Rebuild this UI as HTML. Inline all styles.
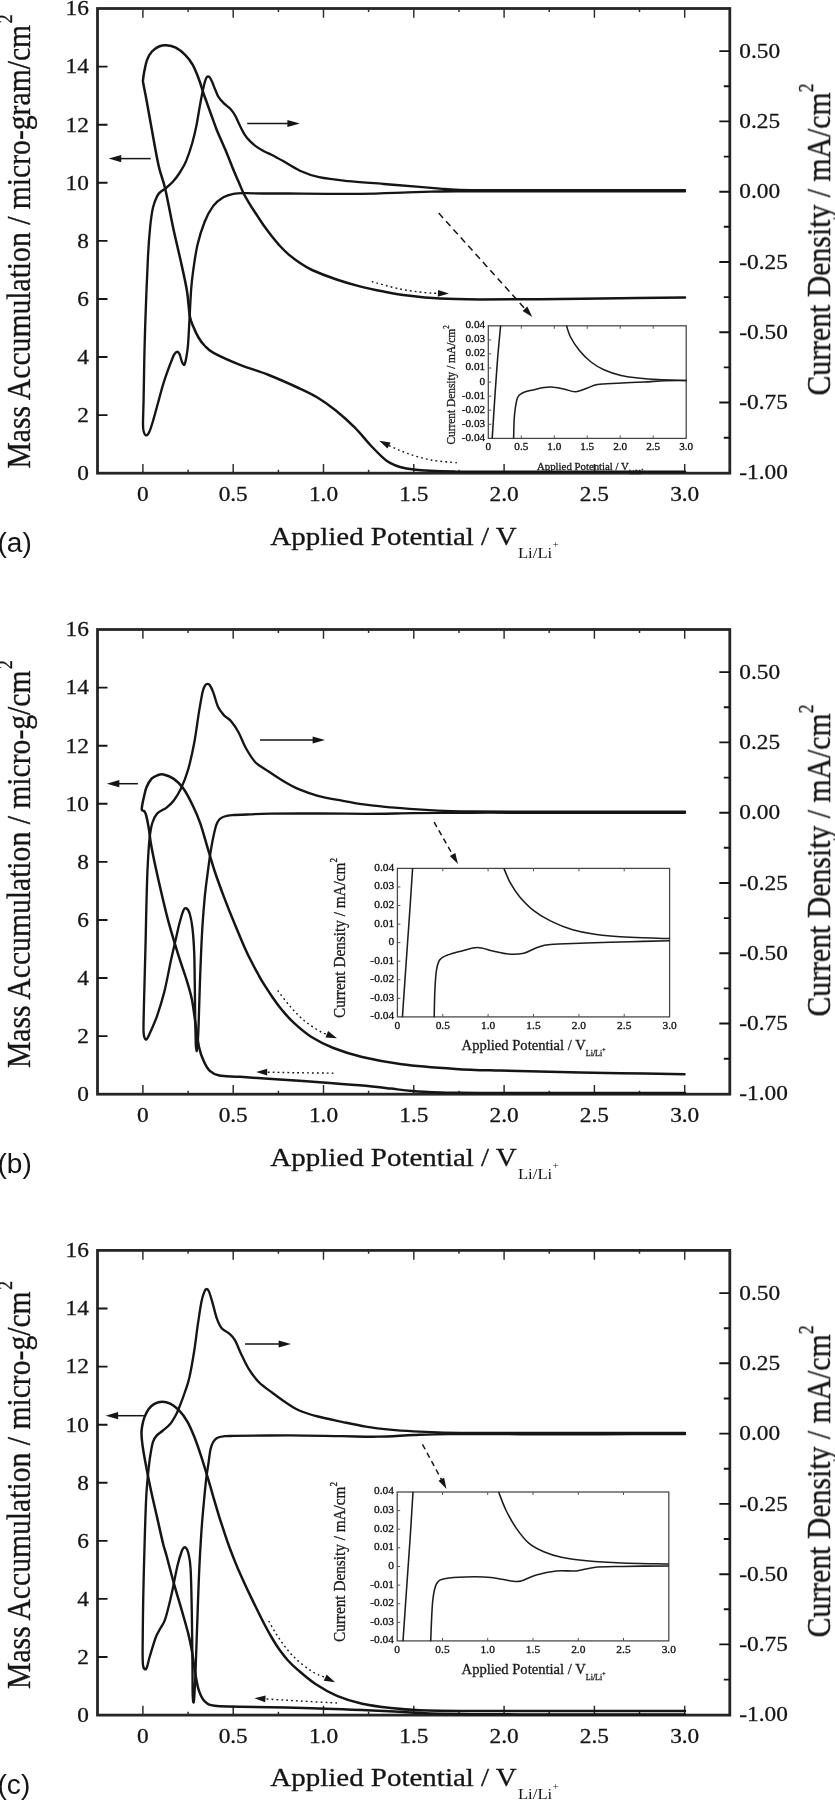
<!DOCTYPE html>
<html lang="en"><head><meta charset="utf-8"><title>Figure</title>
<style>html,body{margin:0;padding:0;background:#fff}svg{display:block}</style>
</head><body>
<svg width="835" height="1800" viewBox="0 0 835 1800">
<defs><filter id="soft" x="0" y="0" width="100%" height="100%" filterUnits="userSpaceOnUse" color-interpolation-filters="sRGB"><feGaussianBlur stdDeviation="0.6"/></filter></defs>
<rect width="835" height="1800" fill="#fff"/>
<g filter="url(#soft)">
<rect width="835" height="1800" fill="#fff"/>
<rect x="97.5" y="8.5" width="632.3" height="464.7" fill="none" stroke="#262626" stroke-width="2.8"/>
<path d="M97.5 415.1h10M97.5 357h10M97.5 299h10M97.5 240.9h10M97.5 182.8h10M97.5 124.7h10M97.5 66.6h10M729.8 437.7h-6M729.8 402.5h-10.5M729.8 367.4h-6M729.8 332.2h-10.5M729.8 297.1h-6M729.8 262h-10.5M729.8 226.8h-6M729.8 191.7h-10.5M729.8 156.6h-6M729.8 121.4h-10.5M729.8 86.3h-6M729.8 51.1h-10.5" stroke="#151515" stroke-width="1.9" fill="none"/>
<path d="M142.9 473.2v-9.3M142.9 8.5v9.3M188.1 473.2v-3.4M188.1 8.5v3.4M233.2 473.2v-9.3M233.2 8.5v9.3M278.4 473.2v-3.4M278.4 8.5v3.4M323.5 473.2v-9.3M323.5 8.5v9.3M368.6 473.2v-3.4M368.6 8.5v3.4M413.8 473.2v-9.3M413.8 8.5v9.3M459 473.2v-3.4M459 8.5v3.4M504.1 473.2v-9.3M504.1 8.5v9.3M549.2 473.2v-3.4M549.2 8.5v3.4M594.4 473.2v-9.3M594.4 8.5v9.3M639.5 473.2v-3.4M639.5 8.5v3.4M684.7 473.2v-9.3M684.7 8.5v9.3" stroke="#2a2a2a" stroke-width="1.45" fill="none"/>
<g font-family="Liberation Serif, Times New Roman, serif" font-size="22.4" stroke="#151515" stroke-width="0.3">
<text transform="translate(88.8 480) scale(1.07 1)" font-size="21.8" text-anchor="end" fill="#151515" >0</text>
<text transform="translate(88.8 421.9) scale(1.07 1)" font-size="21.8" text-anchor="end" fill="#151515" >2</text>
<text transform="translate(88.8 363.8) scale(1.07 1)" font-size="21.8" text-anchor="end" fill="#151515" >4</text>
<text transform="translate(88.8 305.8) scale(1.07 1)" font-size="21.8" text-anchor="end" fill="#151515" >6</text>
<text transform="translate(88.8 247.7) scale(1.07 1)" font-size="21.8" text-anchor="end" fill="#151515" >8</text>
<text transform="translate(88.8 189.6) scale(1.07 1)" font-size="21.8" text-anchor="end" fill="#151515" >10</text>
<text transform="translate(88.8 131.5) scale(1.07 1)" font-size="21.8" text-anchor="end" fill="#151515" >12</text>
<text transform="translate(88.8 73.4) scale(1.07 1)" font-size="21.8" text-anchor="end" fill="#151515" >14</text>
<text transform="translate(88.8 15.4) scale(1.07 1)" font-size="21.8" text-anchor="end" fill="#151515" >16</text>
<text transform="translate(739.3 479.4) scale(1.07 1)" font-size="21.8" text-anchor="start" fill="#151515" >-1.00</text>
<text transform="translate(739.3 409.1) scale(1.07 1)" font-size="21.8" text-anchor="start" fill="#151515" >-0.75</text>
<text transform="translate(739.3 338.9) scale(1.07 1)" font-size="21.8" text-anchor="start" fill="#151515" >-0.50</text>
<text transform="translate(739.3 268.6) scale(1.07 1)" font-size="21.8" text-anchor="start" fill="#151515" >-0.25</text>
<text transform="translate(739.3 198.3) scale(1.07 1)" font-size="21.8" text-anchor="start" fill="#151515" >0.00</text>
<text transform="translate(739.3 128) scale(1.07 1)" font-size="21.8" text-anchor="start" fill="#151515" >0.25</text>
<text transform="translate(739.3 57.7) scale(1.07 1)" font-size="21.8" text-anchor="start" fill="#151515" >0.50</text>
<text transform="translate(142.9 500.8) scale(1.07 1)" font-size="21.8" text-anchor="middle" fill="#151515" >0</text>
<text transform="translate(233.2 500.8) scale(1.07 1)" font-size="21.8" text-anchor="middle" fill="#151515" >0.5</text>
<text transform="translate(323.5 500.8) scale(1.07 1)" font-size="21.8" text-anchor="middle" fill="#151515" >1.0</text>
<text transform="translate(413.8 500.8) scale(1.07 1)" font-size="21.8" text-anchor="middle" fill="#151515" >1.5</text>
<text transform="translate(504.1 500.8) scale(1.07 1)" font-size="21.8" text-anchor="middle" fill="#151515" >2.0</text>
<text transform="translate(594.4 500.8) scale(1.07 1)" font-size="21.8" text-anchor="middle" fill="#151515" >2.5</text>
<text transform="translate(684.7 500.8) scale(1.07 1)" font-size="21.8" text-anchor="middle" fill="#151515" >3.0</text>
</g>
<g font-family="Liberation Serif, Times New Roman, serif" stroke="#151515" stroke-width="0.3">
<text transform="translate(30.3 468.5) scale(1.15 1) rotate(-90)" font-size="29.65" fill="#151515">Mass Accumulation / micro-gram/cm<tspan font-size="17.5" dy="-15.8" dx="1.5">2</tspan></text>
<text transform="translate(830 395.5) scale(1.15 1) rotate(-90)" font-size="29.76" fill="#151515">Current Density / mA/cm<tspan font-size="17.5" dy="-14.8">2</tspan></text>
<text transform="translate(270.3 544.5) scale(1.115 1)" font-size="26" fill="#151515">Applied Potential / V<tspan font-size="15" dy="13" dx="1" stroke="none">Li/Li</tspan><tspan font-size="9.5" dy="-9.5" dx="0.5" stroke="none">+</tspan></text>
</g>
<text transform="translate(-2.5 552.3) scale(1.04 1)" font-family="Liberation Sans, Arial, Helvetica, sans-serif" font-size="27" fill="#151515">(a)</text>
<g font-family="Liberation Serif, Times New Roman, serif">
<rect x="488.3" y="325.8" width="197.9" height="112.6" fill="#fff" fill-opacity="0" stroke="#444" stroke-width="1.25"/>
<text transform="translate(485.1 328.2) scale(1.04 1)" font-size="10.8" text-anchor="end" fill="#111" stroke="#111" stroke-width="0.3">0.04</text>
<text transform="translate(485.1 342.2) scale(1.04 1)" font-size="10.8" text-anchor="end" fill="#111" stroke="#111" stroke-width="0.3">0.03</text>
<text transform="translate(485.1 356.3) scale(1.04 1)" font-size="10.8" text-anchor="end" fill="#111" stroke="#111" stroke-width="0.3">0.02</text>
<text transform="translate(485.1 370.4) scale(1.04 1)" font-size="10.8" text-anchor="end" fill="#111" stroke="#111" stroke-width="0.3">0.01</text>
<text transform="translate(485.1 384.5) scale(1.04 1)" font-size="10.8" text-anchor="end" fill="#111" stroke="#111" stroke-width="0.3">0</text>
<text transform="translate(485.1 398.5) scale(1.04 1)" font-size="10.8" text-anchor="end" fill="#111" stroke="#111" stroke-width="0.3">-0.01</text>
<text transform="translate(485.1 412.6) scale(1.04 1)" font-size="10.8" text-anchor="end" fill="#111" stroke="#111" stroke-width="0.3">-0.02</text>
<text transform="translate(485.1 426.7) scale(1.04 1)" font-size="10.8" text-anchor="end" fill="#111" stroke="#111" stroke-width="0.3">-0.03</text>
<text transform="translate(485.1 440.8) scale(1.04 1)" font-size="10.8" text-anchor="end" fill="#111" stroke="#111" stroke-width="0.3">-0.04</text>
<text transform="translate(488.3 450.1) scale(1.04 1)" font-size="10.8" text-anchor="middle" fill="#111" stroke="#111" stroke-width="0.3">0</text>
<text transform="translate(521.3 450.1) scale(1.04 1)" font-size="10.8" text-anchor="middle" fill="#111" stroke="#111" stroke-width="0.3">0.5</text>
<text transform="translate(554.3 450.1) scale(1.04 1)" font-size="10.8" text-anchor="middle" fill="#111" stroke="#111" stroke-width="0.3">1.0</text>
<text transform="translate(587.2 450.1) scale(1.04 1)" font-size="10.8" text-anchor="middle" fill="#111" stroke="#111" stroke-width="0.3">1.5</text>
<text transform="translate(620.2 450.1) scale(1.04 1)" font-size="10.8" text-anchor="middle" fill="#111" stroke="#111" stroke-width="0.3">2.0</text>
<text transform="translate(653.2 450.1) scale(1.04 1)" font-size="10.8" text-anchor="middle" fill="#111" stroke="#111" stroke-width="0.3">2.5</text>
<text transform="translate(686.2 450.1) scale(1.04 1)" font-size="10.8" text-anchor="middle" fill="#111" stroke="#111" stroke-width="0.3">3.0</text>
<path d="M488.3 339.9h3M488.3 353.9h3M488.3 368h3M488.3 382.1h3M488.3 396.2h3M488.3 410.2h3M488.3 424.3h3M521.3 438.4v-3M521.3 325.8v3M554.3 438.4v-3M554.3 325.8v3M587.2 438.4v-3M587.2 325.8v3M620.2 438.4v-3M620.2 325.8v3M653.2 438.4v-3M653.2 325.8v3" stroke="#555" stroke-width="1" fill="none"/>
<path d="M492.2 438.4C492.7 431.2 494.1 408.1 495 395C495.9 381.9 496.6 371.5 497.5 360C498.4 348.5 500.1 331.5 500.6 325.8" fill="none" stroke="#1c1c1c" stroke-width="1.55"/>
<path d="M566.5 325.8C567.2 327.7 568.4 333 570.5 337C572.6 341 575.6 345.8 579 350C582.4 354.2 586.8 358.7 591 362C595.2 365.3 599.5 367.8 604.5 370C609.5 372.2 615.4 374.2 621 375.5C626.6 376.8 631.8 377.3 638 378C644.2 378.7 649.9 379.2 658 379.6C666.1 380 681.8 380.4 686.5 380.6" fill="none" stroke="#1c1c1c" stroke-width="1.55"/>
<path d="M513.6 438.4C513.8 434.5 513.8 421.8 514.5 415C515.2 408.2 516.1 401.2 517.6 397.5C519.1 393.8 520.9 393.8 523.5 392.5C526.1 391.2 529.6 390.8 533 390C536.4 389.2 540.5 388 544 387.5C547.5 387 550.7 386.9 554 387.2C557.3 387.4 560.4 388.2 564 389C567.6 389.8 571.7 391.9 575.6 391.7C579.5 391.5 583.9 389.2 587.5 388C591.1 386.8 592.5 385.3 597.5 384.5C602.5 383.7 609.8 383.6 617.5 383.2C625.2 382.8 636.1 382.4 644 382C651.9 381.6 657.9 380.9 665 380.7C672.1 380.4 682.9 380.5 686.5 380.5" fill="none" stroke="#1c1c1c" stroke-width="1.55"/>
<text x="537" y="469.5" font-size="10.8" fill="#1a1a1a" stroke="#1a1a1a" stroke-width="0.3">Applied Potential / V<tspan font-size="5.9" dy="4.3">Li/Li</tspan><tspan font-size="4.3" dy="-3.2">+</tspan></text>
<text transform="translate(455 444.5) scale(1.12 1) rotate(-90)" font-size="11.35" fill="#1a1a1a" stroke="#1a1a1a" stroke-width="0.3">Current Density / mA/cm<tspan font-size="6.8" dy="-5.1">2</tspan></text>
</g>
<path d="M685 191.3C670.8 191.3 627.5 191.4 600 191.4C572.5 191.4 541.7 191.4 520 191.4C498.3 191.4 483.3 191.4 470 191.4C456.7 191.4 450.4 191.3 440 191.5C429.6 191.7 421.1 192 407.7 192.4C394.3 192.8 379.8 193.6 359.8 193.8C339.8 194 304.2 193.6 287.9 193.5C271.6 193.4 269.1 193.6 262 193.5C254.8 193.4 249.8 193.1 245 193.2C240.2 193.2 237 193.1 233.4 193.8C229.8 194.5 226.8 195.3 223.4 197.3C220.1 199.3 216.4 201.8 213.3 205.9C210.2 210 207.3 215.2 204.7 221.7C202.1 228.2 199.4 236.5 197.5 244.7C195.6 252.8 194.3 263.1 193.2 270.6C192.1 278.2 191.7 281.6 191.1 290C190.5 298.4 189.9 311.8 189.4 321C188.9 330.2 188.5 338.8 188 345C187.5 351.2 186.8 354.7 186.2 358C185.6 361.3 185.1 364 184.4 364.7C183.7 365.4 182.8 363.8 182 362C181.2 360.2 180.3 355.7 179.5 354C178.7 352.3 178.1 351.7 177.3 351.7C176.5 351.7 175.4 352.7 174.5 354C173.6 355.3 173.8 354.9 172 359.5C170.2 364.1 166.2 374.6 163.9 381.9C161.6 389.1 159.8 396.5 158 403C156.2 409.5 154.5 415.9 153.1 420.7C151.7 425.4 150.6 429.1 149.5 431.5C148.4 433.9 147.3 435.3 146.4 435.4C145.5 435.5 144.4 433.9 143.8 432C143.2 430.1 143 429.3 143 424C143 418.7 143.3 412.3 143.6 400C143.8 387.7 144.1 367.5 144.5 350C144.9 332.5 145.7 310.6 146.3 295C146.9 279.4 147.4 267.4 148 256.2C148.6 244.9 149.3 235.6 150.1 227.5C150.9 219.4 151.8 212.7 153 207.4C154.2 202.1 156 198.5 157.3 195.9C158.6 193.3 159.6 192.8 160.9 191.6C162.2 190.4 163.2 190.4 165.2 188.7C167.2 187 170.5 184.4 173.1 181.5C175.7 178.6 178.3 175 180.5 171.5C182.7 168 184.4 165.3 186.3 160.6C188.2 155.9 190.5 149.3 192.2 143.3C193.9 137.3 195.4 130.7 196.6 124.7C197.8 118.7 198.6 112.7 199.6 107.4C200.6 102.1 201.4 97.2 202.3 93C203.2 88.8 204.1 84.5 204.8 82C205.5 79.5 205.9 78.6 206.4 77.7C206.9 76.8 207.3 76.5 207.9 76.5C208.5 76.5 209.1 76.5 209.8 77.4C210.5 78.3 211.3 79.9 212.2 82C213.1 84.1 214.2 87.3 215.3 89.8C216.4 92.3 217.2 95 218.6 97.2C220 99.4 221.7 101.2 223.7 103.2C225.7 105.2 228.6 106.9 230.5 109C232.4 111.1 233.6 112.8 235.2 115.6C236.8 118.4 238.4 122.6 240 125.8C241.6 129 243.1 132.2 244.8 134.8C246.5 137.4 248.1 139.3 250 141.2C251.9 143.1 253.6 144.7 256 146.4C258.4 148.1 261.7 150.1 264.4 151.5C267.1 152.9 268.9 153.4 272 155C275.1 156.6 278.5 158.5 283.1 161.1C287.8 163.7 293.9 168 299.9 170.7C305.9 173.4 311 175.4 319 177.1C327 178.8 337 179.9 347.8 181.1C358.6 182.2 371.7 183 383.7 184C395.7 185 410.2 186.1 419.6 186.9C429 187.7 433.3 188.1 440 188.6C446.7 189.1 446.7 189.5 460 189.8C473.3 190.1 496.7 190.1 520 190.2C543.3 190.3 572.5 190.2 600 190.2C627.5 190.2 670.8 190.2 685 190.2" fill="none" stroke="#151515" stroke-width="2.35" stroke-linecap="round" stroke-linejoin="round" />
<path d="M685 471.8C664.2 471.8 594.2 471.8 560 471.8C525.8 471.8 497.5 471.8 480 471.8C462.5 471.8 463.3 471.8 455 471.6C446.7 471.4 436.9 471.1 430 470.8C423.1 470.5 418.7 470.2 413.7 469.6C408.7 469 403.9 468.1 400 467C396.1 465.9 392.7 464.2 390 462.8C387.3 461.4 387 461.4 383.7 458.4C380.4 455.4 375.1 450.1 370.3 445C365.5 439.9 360.6 433.4 354.9 427.7C349.1 421.9 342.2 415.6 335.8 410.5C329.4 405.4 323 400.8 316.6 397C310.2 393.2 305.5 391.2 297.5 387.5C289.5 383.8 278.3 378.8 268.7 375C259.1 371.2 249.2 368.5 240 364.8C230.8 361.1 219.4 356 213.5 352.8C207.6 349.6 207 348.1 204.5 345.5C202 342.9 200.3 340.6 198.5 337.5C196.7 334.4 194.9 330.6 193.5 327C192.1 323.4 190.9 322.2 189.8 316C188.7 309.8 188.4 299.5 186.8 290C185.2 280.5 182.6 269.5 180.3 259.1C178 248.7 175.6 239.2 173.1 227.5C170.6 215.8 167.6 198.9 165.2 188.7C162.8 178.4 160.9 175.8 158.7 166C156.5 156.2 153.9 141 151.9 130C149.9 119 147.9 107.8 146.5 100C145.1 92.2 143.8 86.4 143.2 83C142.6 79.6 142.9 81.3 143.1 79.5C143.3 77.7 143.5 75.2 144.2 71.9C144.9 68.6 145.8 63.3 147.1 59.9C148.4 56.5 149.9 53.7 151.9 51.5C153.9 49.3 156.6 47.5 159 46.5C161.4 45.5 163.4 45 166.2 45.2C169 45.4 172.6 46.1 175.8 47.7C179 49.4 182.6 52.3 185.4 55.1C188.2 57.9 190.4 60.7 192.6 64.7C194.8 68.7 197 74.1 198.8 79C200.7 83.9 202.3 90 203.7 94C205.1 98 205.2 98 207 103.1C208.8 108.2 213.1 119.9 214.8 124.7C216.6 129.5 215.6 127.3 217.5 131.8C219.4 136.4 223.6 145.6 226.3 152C229 158.4 231.6 165.5 233.7 170.5C235.8 175.5 236.9 177.9 238.6 181.8C240.3 185.7 241.8 189.9 243.8 193.8C245.8 197.7 248.2 201.6 250.5 205.3C252.8 209 255.2 212.6 257.5 216.1C259.8 219.6 262.1 223.2 264.5 226.5C266.9 229.8 269.2 232.9 271.8 236.2C274.4 239.4 277.1 242.9 280 246C282.9 249.1 285.8 252.1 289.1 254.9C292.4 257.7 296.2 260.5 300 263C303.8 265.5 306 267.3 312 270C318 272.7 327.8 276.5 335.8 279.2C343.8 281.9 351.8 284.3 359.8 286.4C367.8 288.5 375.7 290.1 383.7 291.6C391.7 293.1 398.3 294.4 407.7 295.6C417.1 296.8 427.9 298 440 298.6C452.1 299.2 463.3 299.3 480 299.4C496.7 299.5 516.7 299.4 540 299.2C563.3 299 595.8 298.5 620 298.2C644.2 297.9 674.2 297.7 685 297.6" fill="none" stroke="#151515" stroke-width="2.5" stroke-linecap="round" stroke-linejoin="round" />
<polygon points="108.7,158.6 121.2,155 121.2,162.2" fill="#151515"/>
<line x1="150.7" y1="158.6" x2="120.4" y2="158.6" stroke="#151515" stroke-width="1.5"/>
<polygon points="299.9,123.5 287.4,127.1 287.4,119.9" fill="#151515"/>
<line x1="247.2" y1="123.5" x2="288.5" y2="123.5" stroke="#151515" stroke-width="1.5"/>
<polygon points="532.3,316.9 522.6,310.9 527.3,306.6" fill="#151515"/>
<line x1="438.7" y1="213.1" x2="526.8" y2="310.8" stroke="#151515" stroke-width="1.5" stroke-dasharray="6.5 4.5"/>
<polygon points="448.9,293.6 437.8,296.8 438,290" fill="#151515"/>
<path d="M371.7 281.6C376.4 282.8 391.1 287.2 400 289C408.9 290.8 418.3 291.9 425 292.6C431.7 293.3 437.8 293.3 440 293.4C442.2 293.5 438.3 293.4 437.9 293.4" fill="none" stroke="#151515" stroke-width="1.4" stroke-dasharray="1.8 3.1"/>
<polygon points="379.2,440.7 390.6,442.5 387.5,448.6" fill="#151515"/>
<path d="M456.8 462.8C452.5 462.3 439.1 461.5 431 460C422.9 458.5 414.7 455.9 408 453.6C401.3 451.3 393.9 447.7 390.7 446.4C387.5 445.1 389.3 445.7 389.1 445.6" fill="none" stroke="#151515" stroke-width="1.4" stroke-dasharray="1.8 3.1"/>
<rect x="97.5" y="629.5" width="632.3" height="464.7" fill="none" stroke="#262626" stroke-width="2.8"/>
<path d="M97.5 1036.1h10M97.5 978h10M97.5 920h10M97.5 861.9h10M97.5 803.8h10M97.5 745.7h10M97.5 687.6h10M729.8 1058.7h-6M729.8 1023.5h-10.5M729.8 988.4h-6M729.8 953.2h-10.5M729.8 918.1h-6M729.8 883h-10.5M729.8 847.8h-6M729.8 812.7h-10.5M729.8 777.6h-6M729.8 742.4h-10.5M729.8 707.3h-6M729.8 672.1h-10.5" stroke="#151515" stroke-width="1.9" fill="none"/>
<path d="M142.9 1094.2v-9.3M142.9 629.5v9.3M188.1 1094.2v-3.4M188.1 629.5v3.4M233.2 1094.2v-9.3M233.2 629.5v9.3M278.4 1094.2v-3.4M278.4 629.5v3.4M323.5 1094.2v-9.3M323.5 629.5v9.3M368.6 1094.2v-3.4M368.6 629.5v3.4M413.8 1094.2v-9.3M413.8 629.5v9.3M459 1094.2v-3.4M459 629.5v3.4M504.1 1094.2v-9.3M504.1 629.5v9.3M549.2 1094.2v-3.4M549.2 629.5v3.4M594.4 1094.2v-9.3M594.4 629.5v9.3M639.5 1094.2v-3.4M639.5 629.5v3.4M684.7 1094.2v-9.3M684.7 629.5v9.3" stroke="#2a2a2a" stroke-width="1.45" fill="none"/>
<g font-family="Liberation Serif, Times New Roman, serif" font-size="22.4" stroke="#151515" stroke-width="0.3">
<text transform="translate(88.8 1101) scale(1.07 1)" font-size="21.8" text-anchor="end" fill="#151515" >0</text>
<text transform="translate(88.8 1042.9) scale(1.07 1)" font-size="21.8" text-anchor="end" fill="#151515" >2</text>
<text transform="translate(88.8 984.8) scale(1.07 1)" font-size="21.8" text-anchor="end" fill="#151515" >4</text>
<text transform="translate(88.8 926.8) scale(1.07 1)" font-size="21.8" text-anchor="end" fill="#151515" >6</text>
<text transform="translate(88.8 868.7) scale(1.07 1)" font-size="21.8" text-anchor="end" fill="#151515" >8</text>
<text transform="translate(88.8 810.6) scale(1.07 1)" font-size="21.8" text-anchor="end" fill="#151515" >10</text>
<text transform="translate(88.8 752.5) scale(1.07 1)" font-size="21.8" text-anchor="end" fill="#151515" >12</text>
<text transform="translate(88.8 694.4) scale(1.07 1)" font-size="21.8" text-anchor="end" fill="#151515" >14</text>
<text transform="translate(88.8 636.4) scale(1.07 1)" font-size="21.8" text-anchor="end" fill="#151515" >16</text>
<text transform="translate(739.3 1100.4) scale(1.07 1)" font-size="21.8" text-anchor="start" fill="#151515" >-1.00</text>
<text transform="translate(739.3 1030.1) scale(1.07 1)" font-size="21.8" text-anchor="start" fill="#151515" >-0.75</text>
<text transform="translate(739.3 959.9) scale(1.07 1)" font-size="21.8" text-anchor="start" fill="#151515" >-0.50</text>
<text transform="translate(739.3 889.6) scale(1.07 1)" font-size="21.8" text-anchor="start" fill="#151515" >-0.25</text>
<text transform="translate(739.3 819.3) scale(1.07 1)" font-size="21.8" text-anchor="start" fill="#151515" >0.00</text>
<text transform="translate(739.3 749) scale(1.07 1)" font-size="21.8" text-anchor="start" fill="#151515" >0.25</text>
<text transform="translate(739.3 678.8) scale(1.07 1)" font-size="21.8" text-anchor="start" fill="#151515" >0.50</text>
<text transform="translate(142.9 1121.8) scale(1.07 1)" font-size="21.8" text-anchor="middle" fill="#151515" >0</text>
<text transform="translate(233.2 1121.8) scale(1.07 1)" font-size="21.8" text-anchor="middle" fill="#151515" >0.5</text>
<text transform="translate(323.5 1121.8) scale(1.07 1)" font-size="21.8" text-anchor="middle" fill="#151515" >1.0</text>
<text transform="translate(413.8 1121.8) scale(1.07 1)" font-size="21.8" text-anchor="middle" fill="#151515" >1.5</text>
<text transform="translate(504.1 1121.8) scale(1.07 1)" font-size="21.8" text-anchor="middle" fill="#151515" >2.0</text>
<text transform="translate(594.4 1121.8) scale(1.07 1)" font-size="21.8" text-anchor="middle" fill="#151515" >2.5</text>
<text transform="translate(684.7 1121.8) scale(1.07 1)" font-size="21.8" text-anchor="middle" fill="#151515" >3.0</text>
</g>
<g font-family="Liberation Serif, Times New Roman, serif" stroke="#151515" stroke-width="0.3">
<text transform="translate(30.3 1068) scale(1.15 1) rotate(-90)" font-size="29.65" fill="#151515">Mass Accumulation / micro-g/cm<tspan font-size="17.5" dy="-15.8" dx="1.5">2</tspan></text>
<text transform="translate(830 1016.5) scale(1.15 1) rotate(-90)" font-size="29.76" fill="#151515">Current Density / mA/cm<tspan font-size="17.5" dy="-14.8">2</tspan></text>
<text transform="translate(270.3 1165.5) scale(1.115 1)" font-size="26" fill="#151515">Applied Potential / V<tspan font-size="15" dy="13" dx="1" stroke="none">Li/Li</tspan><tspan font-size="9.5" dy="-9.5" dx="0.5" stroke="none">+</tspan></text>
</g>
<text transform="translate(-2.5 1173.3) scale(1.04 1)" font-family="Liberation Sans, Arial, Helvetica, sans-serif" font-size="27" fill="#151515">(b)</text>
<g font-family="Liberation Serif, Times New Roman, serif">
<rect x="397.4" y="868.4" width="272.2" height="148.5" fill="#fff" fill-opacity="0" stroke="#444" stroke-width="1.25"/>
<text transform="translate(394.2 870.8) scale(1.04 1)" font-size="11" text-anchor="end" fill="#111" stroke="#111" stroke-width="0.3">0.04</text>
<text transform="translate(394.2 889.4) scale(1.04 1)" font-size="11" text-anchor="end" fill="#111" stroke="#111" stroke-width="0.3">0.03</text>
<text transform="translate(394.2 908) scale(1.04 1)" font-size="11" text-anchor="end" fill="#111" stroke="#111" stroke-width="0.3">0.02</text>
<text transform="translate(394.2 926.5) scale(1.04 1)" font-size="11" text-anchor="end" fill="#111" stroke="#111" stroke-width="0.3">0.01</text>
<text transform="translate(394.2 945.1) scale(1.04 1)" font-size="11" text-anchor="end" fill="#111" stroke="#111" stroke-width="0.3">0</text>
<text transform="translate(394.2 963.6) scale(1.04 1)" font-size="11" text-anchor="end" fill="#111" stroke="#111" stroke-width="0.3">-0.01</text>
<text transform="translate(394.2 982.2) scale(1.04 1)" font-size="11" text-anchor="end" fill="#111" stroke="#111" stroke-width="0.3">-0.02</text>
<text transform="translate(394.2 1000.8) scale(1.04 1)" font-size="11" text-anchor="end" fill="#111" stroke="#111" stroke-width="0.3">-0.03</text>
<text transform="translate(394.2 1019.3) scale(1.04 1)" font-size="11" text-anchor="end" fill="#111" stroke="#111" stroke-width="0.3">-0.04</text>
<text transform="translate(397.4 1028.8) scale(1.04 1)" font-size="11" text-anchor="middle" fill="#111" stroke="#111" stroke-width="0.3">0</text>
<text transform="translate(442.8 1028.8) scale(1.04 1)" font-size="11" text-anchor="middle" fill="#111" stroke="#111" stroke-width="0.3">0.5</text>
<text transform="translate(488.1 1028.8) scale(1.04 1)" font-size="11" text-anchor="middle" fill="#111" stroke="#111" stroke-width="0.3">1.0</text>
<text transform="translate(533.5 1028.8) scale(1.04 1)" font-size="11" text-anchor="middle" fill="#111" stroke="#111" stroke-width="0.3">1.5</text>
<text transform="translate(578.9 1028.8) scale(1.04 1)" font-size="11" text-anchor="middle" fill="#111" stroke="#111" stroke-width="0.3">2.0</text>
<text transform="translate(624.2 1028.8) scale(1.04 1)" font-size="11" text-anchor="middle" fill="#111" stroke="#111" stroke-width="0.3">2.5</text>
<text transform="translate(669.6 1028.8) scale(1.04 1)" font-size="11" text-anchor="middle" fill="#111" stroke="#111" stroke-width="0.3">3.0</text>
<path d="M397.4 887h3M397.4 905.5h3M397.4 924.1h3M397.4 942.6h3M397.4 961.2h3M397.4 979.8h3M397.4 998.3h3M442.8 1016.9v-3M442.8 868.4v3M488.1 1016.9v-3M488.1 868.4v3M533.5 1016.9v-3M533.5 868.4v3M578.9 1016.9v-3M578.9 868.4v3M624.2 1016.9v-3M624.2 868.4v3" stroke="#555" stroke-width="1" fill="none"/>
<path d="M402.4 1017.3C403 1008.6 404.8 982 406 965C407.2 948 408.4 931.1 409.5 915C410.6 898.9 412.1 876.2 412.6 868.4" fill="none" stroke="#1c1c1c" stroke-width="1.55"/>
<path d="M503.9 868.4C505 870.9 507.9 878.5 510.5 883.2C513.1 887.9 515.7 892.1 519.4 896.5C523.1 900.9 527.5 905.7 532.7 909.8C537.9 913.9 543.8 917.6 550.4 920.9C557 924.2 565.2 927.6 572.6 929.8C580 932 585.1 933 594.7 934.2C604.3 935.5 617.7 936.6 630.2 937.3C642.7 938 663 938.4 669.6 938.6" fill="none" stroke="#1c1c1c" stroke-width="1.55"/>
<path d="M434.2 1017.3C434.3 1012.8 434.5 997.9 434.9 990.1C435.3 982.3 435.6 975.7 436.4 970.7C437.2 965.7 438 962.5 439.6 960C441.2 957.5 442.6 957 446.3 955.5C450 954 456.6 952.3 461.8 951C467 949.7 472.1 947.5 477.3 947.5C482.5 947.5 487.6 949.9 492.8 951C498 952.1 503.1 953.7 508.3 954.1C513.5 954.5 519 954.3 523.8 953.2C528.6 952.1 532.7 949 537.1 947.5C541.5 946 542.3 945.1 550.4 944.4C558.5 943.6 572.6 943.5 585.9 943C599.2 942.5 616.2 942.1 630.2 941.7C644.2 941.3 663 940.9 669.6 940.8" fill="none" stroke="#1c1c1c" stroke-width="1.55"/>
<text x="461.6" y="1050.3" font-size="14.6" fill="#1a1a1a" stroke="#1a1a1a" stroke-width="0.3">Applied Potential / V<tspan font-size="8" dy="5.8">Li/Li</tspan><tspan font-size="5.8" dy="-4.4">+</tspan></text>
<text transform="translate(345.2 1018) scale(1.12 1) rotate(-90)" font-size="15.25" fill="#1a1a1a" stroke="#1a1a1a" stroke-width="0.3">Current Density / mA/cm<tspan font-size="9.2" dy="-6.9">2</tspan></text>
</g>
<path d="M685 812.7C670.8 812.7 627.5 812.8 600 812.8C572.5 812.8 541.7 812.8 520 812.8C498.3 812.8 487.7 812.6 470 812.7C452.3 812.8 431.1 813 413.7 813.2C396.3 813.4 381.4 813.8 365.8 813.8C350.2 813.8 336 813.5 320 813.5C304 813.5 281.7 813.5 270 813.6C258.3 813.8 256.3 814.1 250 814.4C243.7 814.6 236.2 814.8 232 815.1C227.8 815.5 226.4 815.9 224.5 816.5C222.6 817.1 221.5 817.7 220.3 818.6C219.2 819.5 218.4 820.5 217.6 822C216.8 823.5 216.3 824.4 215.5 827.5C214.7 830.6 213.6 835.5 212.6 840.5C211.6 845.5 210.6 851.5 209.7 857.7C208.8 864 207.9 871 207 878C206.1 885 205.3 890.8 204.5 899.8C203.7 908.8 202.8 919.5 202.1 932C201.4 944.5 200.8 959.5 200.2 975C199.6 990.5 199 1013.3 198.6 1025C198.2 1036.7 197.9 1040.6 197.6 1045C197.3 1049.4 197 1051.3 196.7 1051.3C196.4 1051.3 196.1 1050.2 195.8 1045C195.6 1039.8 195.4 1030 195.2 1020C195 1010 195 996.2 194.8 985C194.6 973.8 194.6 961.9 194.2 952.5C193.8 943.1 193.2 934.9 192.5 928.5C191.8 922.1 190.8 917.4 189.8 914C188.8 910.6 187.6 909 186.5 908.4C185.4 907.8 184.5 908.2 183.4 910.5C182.3 912.8 180.8 918.4 179.8 922C178.8 925.6 178.8 926 177.4 932C176 938 173.6 948.3 171.4 958.3C169.2 968.3 166.7 982.3 164.3 991.9C161.9 1001.5 159.5 1008.9 157.1 1015.8C154.7 1022.6 151.7 1029.1 149.9 1033C148.2 1036.9 147.5 1038.6 146.6 1039.3C145.7 1040 144.8 1038.9 144.3 1037C143.8 1035.1 143.5 1035 143.5 1028C143.5 1021 143.9 1008 144.2 995C144.5 982 145 965 145.4 950C145.8 935 146.1 918.3 146.4 905C146.8 891.7 147 880.8 147.5 870C148 859.2 148.6 847.8 149.4 840C150.2 832.2 151 827.4 152.3 823C153.6 818.6 154.7 816.2 157.1 813.6C159.5 811 163.8 809.8 166.6 807.6C169.4 805.4 171.4 803.7 173.8 800.5C176.2 797.3 178.6 793.7 181 788.5C183.4 783.3 186 776.9 188.2 769.3C190.4 761.7 192.4 752.6 194.2 743C196 733.4 197.6 720.4 199 711.9C200.4 703.4 201.6 696.4 202.6 692C203.6 687.6 204.4 686.6 205.2 685.3C206 683.9 206.8 683.9 207.6 683.9C208.4 683.9 209 684 210 685.5C211 687 212.1 689.1 213.4 692.7C214.8 696.3 216.3 703.3 218.1 707.1C219.9 710.9 221.9 713 224.1 715.4C226.3 717.8 228.9 718.6 231.3 721.4C233.7 724.2 236.1 727.8 238.5 732.2C240.9 736.6 242.9 742.8 245.7 747.8C248.5 752.8 251.7 758.4 255.3 762.2C258.9 766 262.8 767.6 267.2 770.6C271.6 773.6 276.4 776.9 281.6 780C286.9 783.1 292.6 786.6 298.7 789.2C304.8 791.8 310.7 793.9 317.9 795.8C325.1 797.7 333.9 799.1 341.9 800.6C349.9 802.1 357.8 803.6 365.8 804.7C373.8 805.8 381.8 806.5 389.8 807.3C397.8 808 405.7 808.7 413.7 809.2C421.7 809.8 428.3 810.2 437.7 810.6C447.1 811 456.3 811.2 470 811.4C483.7 811.6 498.3 811.6 520 811.6C541.7 811.6 572.5 811.6 600 811.6C627.5 811.6 670.8 811.6 685 811.6" fill="none" stroke="#151515" stroke-width="2.35" stroke-linecap="round" stroke-linejoin="round" />
<path d="M685 1092.9C664.2 1092.9 594.2 1092.9 560 1092.9C525.8 1092.9 497.5 1092.9 480 1092.9C462.5 1092.9 461.5 1092.8 455 1092.8C448.5 1092.8 448.3 1092.9 441.2 1092.6C434.1 1092.3 420.9 1091.7 412.5 1091C404.1 1090.3 398.7 1089.5 390.9 1088.6C383.1 1087.7 376 1086.8 365.8 1085.8C355.6 1084.8 344.8 1084 329.8 1082.9C314.8 1081.8 290.9 1080.3 275.9 1079.3C260.9 1078.3 249.4 1077.4 240 1076.8C230.6 1076.2 224.3 1076.5 219.3 1075.5C214.3 1074.5 212.4 1073.3 209.8 1070.9C207.2 1068.5 205.6 1065.3 203.8 1061.3C202 1057.3 200.4 1053.3 199 1046.9C197.6 1040.5 196.6 1031 195.4 1023C194.2 1015 193.4 1006.6 191.8 999C190.2 991.4 188 984.7 185.8 977.5C183.6 970.3 181.4 964.9 178.6 955.9C175.8 946.9 171.8 933.9 169 923.7C166.2 913.6 164.1 904.2 161.9 895C159.7 885.8 157.7 877 155.9 868.6C154.1 860.2 152.3 851.5 151.1 844.7C149.9 837.9 149.5 832.7 148.7 827.9C147.9 823.1 147 818.6 146.3 815.9C145.6 813.2 145.3 812.5 144.6 811.5C143.8 810.5 142.1 811.1 141.8 809.7C141.5 808.3 142.3 805 142.6 803C142.9 801 143.2 800.1 143.8 797.5C144.5 794.9 145.2 790.4 146.5 787.3C147.8 784.2 149.8 780.7 151.6 778.7C153.4 776.7 155.5 776 157.5 775.3C159.5 774.6 160.8 773.9 163.5 774.5C166.2 775.1 170.5 776.6 173.8 778.9C177.1 781.2 180.2 784 183.4 788.5C186.6 793 190.2 800.2 193 806C195.8 811.8 197.8 816.2 200.2 823.1C202.6 830 205 839.1 207.4 847.1C209.8 855.1 211.8 862.6 214.6 871C217.4 879.4 220.8 888.6 224.1 897.4C227.4 906.1 230.9 914.8 234.5 923.5C238.1 932.2 242.6 943 245.5 949.5C248.4 956 249.8 958.4 252 962.8C254.2 967.2 256.8 971.8 259 975.8C261.2 979.8 263.2 983.1 265.5 986.7C267.8 990.3 269.8 993.3 272.5 997.2C275.2 1001.1 278.4 1005.7 282 1010C285.6 1014.3 288.9 1018.4 293.9 1022.9C298.9 1027.5 305.3 1033.1 311.9 1037.3C318.5 1041.5 325 1044.7 333.4 1048C341.8 1051.3 350.8 1054.3 362.2 1057C373.6 1059.7 386.1 1062.2 401.7 1064.2C417.3 1066.2 439.2 1067.8 455.6 1068.9C472 1070 482.6 1070.1 500 1070.6C517.4 1071.1 540 1071.6 560 1072C580 1072.4 599.2 1072.8 620 1073.2C640.8 1073.6 673.8 1074 684.5 1074.2" fill="none" stroke="#151515" stroke-width="2.5" stroke-linecap="round" stroke-linejoin="round" />
<polygon points="106.8,783.7 119.3,780.1 119.3,787.3" fill="#151515"/>
<line x1="137.9" y1="783.7" x2="118.7" y2="783.7" stroke="#151515" stroke-width="1.5"/>
<polygon points="325.1,740 312.6,743.6 312.6,736.4" fill="#151515"/>
<line x1="260" y1="740" x2="313.9" y2="740" stroke="#151515" stroke-width="1.5"/>
<polygon points="458,864.1 449.8,856.1 455.3,853" fill="#151515"/>
<line x1="434.1" y1="822.2" x2="453" y2="855.4" stroke="#151515" stroke-width="1.5" stroke-dasharray="5.5 4"/>
<polygon points="337,1038.3 325.5,1037.4 328.1,1031" fill="#151515"/>
<path d="M277.7 990.5C279.8 993.2 285.8 1001.5 290.3 1006.6C294.8 1011.7 299.6 1016.8 304.7 1021C309.8 1025.2 317.1 1029.6 320.8 1031.8C324.5 1034 325.8 1033.8 326.8 1034.2" fill="none" stroke="#151515" stroke-width="1.4" stroke-dasharray="1.8 3.1"/>
<polygon points="256.2,1072.1 267.2,1068.8 267.2,1075.6" fill="#151515"/>
<path d="M333.4 1073.2C327.8 1073.1 308.9 1072.9 300 1072.8C291.1 1072.7 285.5 1072.5 280 1072.4C274.5 1072.3 269.3 1072.3 267.2 1072.2" fill="none" stroke="#151515" stroke-width="1.4" stroke-dasharray="1.8 3.1"/>
<rect x="97.5" y="1250.4" width="632.3" height="464.7" fill="none" stroke="#262626" stroke-width="2.8"/>
<path d="M97.5 1657h10M97.5 1598.9h10M97.5 1540.9h10M97.5 1482.8h10M97.5 1424.7h10M97.5 1366.6h10M97.5 1308.5h10M729.8 1679.6h-6M729.8 1644.4h-10.5M729.8 1609.3h-6M729.8 1574.2h-10.5M729.8 1539h-6M729.8 1503.9h-10.5M729.8 1468.7h-6M729.8 1433.6h-10.5M729.8 1398.5h-6M729.8 1363.3h-10.5M729.8 1328.2h-6M729.8 1293.1h-10.5" stroke="#151515" stroke-width="1.9" fill="none"/>
<path d="M142.9 1715.1v-9.3M142.9 1250.4v9.3M188.1 1715.1v-3.4M188.1 1250.4v3.4M233.2 1715.1v-9.3M233.2 1250.4v9.3M278.4 1715.1v-3.4M278.4 1250.4v3.4M323.5 1715.1v-9.3M323.5 1250.4v9.3M368.6 1715.1v-3.4M368.6 1250.4v3.4M413.8 1715.1v-9.3M413.8 1250.4v9.3M459 1715.1v-3.4M459 1250.4v3.4M504.1 1715.1v-9.3M504.1 1250.4v9.3M549.2 1715.1v-3.4M549.2 1250.4v3.4M594.4 1715.1v-9.3M594.4 1250.4v9.3M639.5 1715.1v-3.4M639.5 1250.4v3.4M684.7 1715.1v-9.3M684.7 1250.4v9.3" stroke="#2a2a2a" stroke-width="1.45" fill="none"/>
<g font-family="Liberation Serif, Times New Roman, serif" font-size="22.4" stroke="#151515" stroke-width="0.3">
<text transform="translate(88.8 1721.9) scale(1.07 1)" font-size="21.8" text-anchor="end" fill="#151515" >0</text>
<text transform="translate(88.8 1663.8) scale(1.07 1)" font-size="21.8" text-anchor="end" fill="#151515" >2</text>
<text transform="translate(88.8 1605.7) scale(1.07 1)" font-size="21.8" text-anchor="end" fill="#151515" >4</text>
<text transform="translate(88.8 1547.7) scale(1.07 1)" font-size="21.8" text-anchor="end" fill="#151515" >6</text>
<text transform="translate(88.8 1489.6) scale(1.07 1)" font-size="21.8" text-anchor="end" fill="#151515" >8</text>
<text transform="translate(88.8 1431.5) scale(1.07 1)" font-size="21.8" text-anchor="end" fill="#151515" >10</text>
<text transform="translate(88.8 1373.4) scale(1.07 1)" font-size="21.8" text-anchor="end" fill="#151515" >12</text>
<text transform="translate(88.8 1315.3) scale(1.07 1)" font-size="21.8" text-anchor="end" fill="#151515" >14</text>
<text transform="translate(88.8 1257.3) scale(1.07 1)" font-size="21.8" text-anchor="end" fill="#151515" >16</text>
<text transform="translate(739.3 1721.3) scale(1.07 1)" font-size="21.8" text-anchor="start" fill="#151515" >-1.00</text>
<text transform="translate(739.3 1651) scale(1.07 1)" font-size="21.8" text-anchor="start" fill="#151515" >-0.75</text>
<text transform="translate(739.3 1580.8) scale(1.07 1)" font-size="21.8" text-anchor="start" fill="#151515" >-0.50</text>
<text transform="translate(739.3 1510.5) scale(1.07 1)" font-size="21.8" text-anchor="start" fill="#151515" >-0.25</text>
<text transform="translate(739.3 1440.2) scale(1.07 1)" font-size="21.8" text-anchor="start" fill="#151515" >0.00</text>
<text transform="translate(739.3 1369.9) scale(1.07 1)" font-size="21.8" text-anchor="start" fill="#151515" >0.25</text>
<text transform="translate(739.3 1299.7) scale(1.07 1)" font-size="21.8" text-anchor="start" fill="#151515" >0.50</text>
<text transform="translate(142.9 1742.7) scale(1.07 1)" font-size="21.8" text-anchor="middle" fill="#151515" >0</text>
<text transform="translate(233.2 1742.7) scale(1.07 1)" font-size="21.8" text-anchor="middle" fill="#151515" >0.5</text>
<text transform="translate(323.5 1742.7) scale(1.07 1)" font-size="21.8" text-anchor="middle" fill="#151515" >1.0</text>
<text transform="translate(413.8 1742.7) scale(1.07 1)" font-size="21.8" text-anchor="middle" fill="#151515" >1.5</text>
<text transform="translate(504.1 1742.7) scale(1.07 1)" font-size="21.8" text-anchor="middle" fill="#151515" >2.0</text>
<text transform="translate(594.4 1742.7) scale(1.07 1)" font-size="21.8" text-anchor="middle" fill="#151515" >2.5</text>
<text transform="translate(684.7 1742.7) scale(1.07 1)" font-size="21.8" text-anchor="middle" fill="#151515" >3.0</text>
</g>
<g font-family="Liberation Serif, Times New Roman, serif" stroke="#151515" stroke-width="0.3">
<text transform="translate(30.3 1688.9) scale(1.15 1) rotate(-90)" font-size="29.65" fill="#151515">Mass Accumulation / micro-g/cm<tspan font-size="17.5" dy="-15.8" dx="1.5">2</tspan></text>
<text transform="translate(830 1637.4) scale(1.15 1) rotate(-90)" font-size="29.76" fill="#151515">Current Density / mA/cm<tspan font-size="17.5" dy="-14.8">2</tspan></text>
<text transform="translate(270.3 1786.4) scale(1.115 1)" font-size="26" fill="#151515">Applied Potential / V<tspan font-size="15" dy="13" dx="1" stroke="none">Li/Li</tspan><tspan font-size="9.5" dy="-9.5" dx="0.5" stroke="none">+</tspan></text>
</g>
<text transform="translate(-2.5 1794.2) scale(1.04 1)" font-family="Liberation Sans, Arial, Helvetica, sans-serif" font-size="27" fill="#151515">(c)</text>
<g font-family="Liberation Serif, Times New Roman, serif">
<rect x="397.2" y="1492" width="271.6" height="148.9" fill="#fff" fill-opacity="0" stroke="#444" stroke-width="1.25"/>
<text transform="translate(394 1494.4) scale(1.04 1)" font-size="11" text-anchor="end" fill="#111" stroke="#111" stroke-width="0.3">0.04</text>
<text transform="translate(394 1513) scale(1.04 1)" font-size="11" text-anchor="end" fill="#111" stroke="#111" stroke-width="0.3">0.03</text>
<text transform="translate(394 1531.7) scale(1.04 1)" font-size="11" text-anchor="end" fill="#111" stroke="#111" stroke-width="0.3">0.02</text>
<text transform="translate(394 1550.3) scale(1.04 1)" font-size="11" text-anchor="end" fill="#111" stroke="#111" stroke-width="0.3">0.01</text>
<text transform="translate(394 1568.9) scale(1.04 1)" font-size="11" text-anchor="end" fill="#111" stroke="#111" stroke-width="0.3">0</text>
<text transform="translate(394 1587.5) scale(1.04 1)" font-size="11" text-anchor="end" fill="#111" stroke="#111" stroke-width="0.3">-0.01</text>
<text transform="translate(394 1606.1) scale(1.04 1)" font-size="11" text-anchor="end" fill="#111" stroke="#111" stroke-width="0.3">-0.02</text>
<text transform="translate(394 1624.7) scale(1.04 1)" font-size="11" text-anchor="end" fill="#111" stroke="#111" stroke-width="0.3">-0.03</text>
<text transform="translate(394 1643.3) scale(1.04 1)" font-size="11" text-anchor="end" fill="#111" stroke="#111" stroke-width="0.3">-0.04</text>
<text transform="translate(397.2 1652.8) scale(1.04 1)" font-size="11" text-anchor="middle" fill="#111" stroke="#111" stroke-width="0.3">0</text>
<text transform="translate(442.5 1652.8) scale(1.04 1)" font-size="11" text-anchor="middle" fill="#111" stroke="#111" stroke-width="0.3">0.5</text>
<text transform="translate(487.7 1652.8) scale(1.04 1)" font-size="11" text-anchor="middle" fill="#111" stroke="#111" stroke-width="0.3">1.0</text>
<text transform="translate(533 1652.8) scale(1.04 1)" font-size="11" text-anchor="middle" fill="#111" stroke="#111" stroke-width="0.3">1.5</text>
<text transform="translate(578.3 1652.8) scale(1.04 1)" font-size="11" text-anchor="middle" fill="#111" stroke="#111" stroke-width="0.3">2.0</text>
<text transform="translate(623.5 1652.8) scale(1.04 1)" font-size="11" text-anchor="middle" fill="#111" stroke="#111" stroke-width="0.3">2.5</text>
<text transform="translate(668.8 1652.8) scale(1.04 1)" font-size="11" text-anchor="middle" fill="#111" stroke="#111" stroke-width="0.3">3.0</text>
<path d="M397.2 1510.6h3M397.2 1529.2h3M397.2 1547.8h3M397.2 1566.5h3M397.2 1585.1h3M397.2 1603.7h3M397.2 1622.3h3M442.5 1640.9v-3M442.5 1492v3M487.7 1640.9v-3M487.7 1492v3M533 1640.9v-3M533 1492v3M578.3 1640.9v-3M578.3 1492v3M623.5 1640.9v-3M623.5 1492v3" stroke="#555" stroke-width="1" fill="none"/>
<path d="M403 1641.3C403.6 1632.8 405.3 1606.9 406.5 1590C407.7 1573.1 408.9 1556.3 410 1540C411.1 1523.7 412.5 1500 413 1492" fill="none" stroke="#1c1c1c" stroke-width="1.55"/>
<path d="M498.6 1492C499.9 1495.1 503.2 1504.5 506.1 1510.5C509 1516.5 512.4 1522.6 516.2 1528.1C520 1533.5 524.2 1539.2 528.8 1543.2C533.4 1547.2 538.4 1549.5 543.8 1551.8C549.2 1554.1 554.3 1555.8 561.4 1557.3C568.5 1558.8 576.5 1559.9 586.6 1560.8C596.7 1561.7 608.1 1562.4 621.8 1562.9C635.5 1563.4 661 1563.7 668.8 1563.9" fill="none" stroke="#1c1c1c" stroke-width="1.55"/>
<path d="M430.7 1641.3C431 1634.6 431.7 1610.7 432.7 1601.1C433.7 1591.5 434.5 1587.3 436.7 1583.5C438.9 1579.7 440.9 1579.6 445.8 1578.5C450.7 1577.4 458.4 1577.1 465.9 1576.9C473.4 1576.7 483.5 1576.7 491 1577.4C498.5 1578.1 506.1 1580.4 511.1 1581C516.1 1581.6 517 1582 521.2 1581C525.4 1580 530.4 1576.6 536.3 1574.9C542.2 1573.2 549.7 1571.6 556.4 1570.9C563.1 1570.2 570.2 1571.5 576.5 1570.9C582.8 1570.3 586.6 1568.2 594.1 1567.4C601.6 1566.7 609.3 1566.7 621.8 1566.4C634.2 1566.2 661 1566 668.8 1565.9" fill="none" stroke="#1c1c1c" stroke-width="1.55"/>
<text x="461.6" y="1674.4" font-size="14.6" fill="#1a1a1a" stroke="#1a1a1a" stroke-width="0.3">Applied Potential / V<tspan font-size="8" dy="5.8">Li/Li</tspan><tspan font-size="5.8" dy="-4.4">+</tspan></text>
<text transform="translate(345.2 1642) scale(1.12 1) rotate(-90)" font-size="15.25" fill="#1a1a1a" stroke="#1a1a1a" stroke-width="0.3">Current Density / mA/cm<tspan font-size="9.2" dy="-6.9">2</tspan></text>
</g>
<path d="M685 1434.1C670.8 1434.1 627.5 1434.2 600 1434.2C572.5 1434.2 545.1 1434.2 520 1434.2C494.9 1434.2 467.3 1433.9 449.6 1434C431.9 1434.1 425.7 1434.5 413.7 1435C401.7 1435.5 389.8 1436.5 377.8 1436.7C365.8 1436.9 356.5 1436.4 341.9 1436.2C327.3 1436 308 1435.5 290 1435.4C272 1435.4 244.8 1435.8 233.7 1435.9C222.6 1436.1 226.2 1436 223.4 1436.3C220.6 1436.6 218.7 1437 217 1438C215.3 1439 214.3 1440.2 213.2 1442C212.1 1443.8 211.4 1445.6 210.6 1449C209.8 1452.4 209.3 1457.3 208.6 1462.3C207.9 1467.3 207 1472.2 206.2 1479C205.4 1485.8 204.6 1494.2 203.8 1503C203 1511.8 202.2 1519.7 201.4 1531.7C200.6 1543.7 199.7 1558.6 199 1575C198.3 1591.4 197.6 1613.3 197 1630C196.4 1646.7 195.8 1663.8 195.4 1675C195 1686.2 194.6 1692.4 194.3 1697C194 1701.6 193.7 1702.8 193.4 1702.5C193.1 1702.2 192.9 1702.1 192.7 1695C192.5 1687.9 192.6 1673.8 192.4 1660C192.2 1646.2 192.1 1627.1 191.8 1611.9C191.5 1596.7 191.2 1578.6 190.6 1568.7C190 1558.8 189 1556 188.2 1552.5C187.4 1549 186.7 1548.8 186 1548C185.3 1547.2 184.7 1547 184 1547.5C183.3 1548 182.9 1547.9 181.8 1551C180.7 1554.1 179.1 1558.7 177.4 1566C175.7 1573.3 173.1 1587.3 171.4 1595.1C169.7 1602.9 168.2 1608.6 167 1613C165.8 1617.4 165.5 1618.7 164.3 1621.4C163.1 1624.1 161.4 1626.4 160 1629C158.6 1631.6 157.6 1632.5 155.9 1637C154.2 1641.5 151.4 1651 149.9 1656C148.4 1661 147.8 1664.8 147 1667C146.2 1669.2 145.6 1669.6 144.9 1669.3C144.2 1669 143.4 1668.2 143 1665C142.6 1661.8 142.6 1660.8 142.6 1650C142.6 1639.2 142.9 1617.7 143.2 1600C143.5 1582.3 144.1 1561.1 144.6 1543.7C145.1 1526.3 145.6 1508.8 146.3 1495.8C147 1482.8 148.1 1473.3 148.9 1466C149.7 1458.7 150.2 1455.8 150.9 1451.8C151.6 1447.8 152.1 1444.5 153 1441.8C153.9 1439.1 154.9 1437.5 156.6 1435.6C158.3 1433.7 160.7 1432.4 163 1430.5C165.3 1428.6 168 1426.6 170.2 1424C172.4 1421.4 174.3 1418 176 1414.8C177.7 1411.6 178.9 1408.2 180.3 1404.6C181.7 1401 183.1 1397.5 184.6 1393C186.1 1388.5 187.8 1384.4 189.4 1377.4C191 1370.4 192.8 1359.8 194.2 1351C195.6 1342.2 196.6 1332.9 197.8 1324.7C199 1316.5 200.3 1307.5 201.4 1301.9C202.5 1296.4 203.6 1293.6 204.5 1291.4C205.4 1289.2 205.8 1289 206.6 1289C207.3 1289 208 1289.2 209 1291.6C210 1293.9 211.3 1298.6 212.6 1303.1C213.9 1307.6 215.4 1314.5 216.9 1318.7C218.4 1322.9 219.7 1325.9 221.7 1328.3C223.7 1330.7 226.7 1331.3 228.9 1333.3C231.1 1335.3 232.9 1336.8 234.9 1340.2C236.9 1343.6 238.7 1348.8 240.9 1353.4C243.1 1358 245.3 1363.2 248.1 1367.8C250.9 1372.4 254.9 1377.8 257.7 1381C260.5 1384.2 262.6 1385.4 265 1387.3C267.4 1389.2 268.8 1390.1 272 1392.5C275.2 1394.9 279.9 1398.6 284.4 1401.6C288.8 1404.5 293.1 1407.7 298.7 1410.2C304.3 1412.7 310.7 1414.6 317.9 1416.5C325.1 1418.4 333.9 1420.1 341.9 1421.8C349.9 1423.5 357.8 1425.3 365.8 1426.6C373.8 1427.9 381.8 1428.9 389.8 1429.7C397.8 1430.5 405.7 1431 413.7 1431.4C421.7 1431.9 428.3 1432.2 437.7 1432.4C447.1 1432.7 456.3 1432.8 470 1432.9C483.7 1433 498.3 1433 520 1433C541.7 1433 572.5 1433 600 1433C627.5 1433 670.8 1433 685 1433" fill="none" stroke="#151515" stroke-width="2.35" stroke-linecap="round" stroke-linejoin="round" />
<path d="M685 1714.4C670.8 1714.4 627.5 1714.4 600 1714.4C572.5 1714.4 541.7 1714.4 520 1714.4C498.3 1714.4 483.3 1714.3 470 1714.2C456.7 1714.1 448.4 1713.9 440 1713.7C431.6 1713.5 429.1 1713.4 419.7 1712.9C410.3 1712.5 401.7 1711.8 383.7 1711C365.7 1710.2 335.8 1708.9 311.9 1708.2C287.9 1707.5 256.2 1707.1 240 1706.7C223.8 1706.3 220.4 1706.6 214.6 1705.8C208.8 1705 207.6 1704.2 205 1701.7C202.4 1699.2 200.6 1695.5 199 1690.9C197.4 1686.3 196.6 1680.9 195.4 1674.1C194.2 1667.3 193 1657 191.8 1650.2C190.6 1643.4 189.8 1639.8 188.2 1633.4C186.6 1627 184.6 1620.3 182.2 1611.9C179.8 1603.5 176.4 1592.4 173.8 1583.1C171.2 1573.8 168.4 1562.6 166.6 1556C164.8 1549.4 164.7 1550.1 163.1 1543.7C161.5 1537.3 159.1 1526.2 157.1 1517.4C155.1 1508.6 152.9 1499.4 151.1 1491C149.3 1482.6 147.7 1474.3 146.3 1467.1C144.9 1459.9 143.7 1453.4 142.9 1447.9C142.1 1442.4 141.6 1437.7 141.5 1434C141.4 1430.3 141.7 1428.8 142.2 1426C142.7 1423.2 143.3 1420.2 144.4 1417.4C145.5 1414.6 147 1411.2 148.7 1408.9C150.4 1406.7 152.1 1405.1 154.4 1403.9C156.7 1402.7 159.7 1401.8 162.3 1401.8C164.9 1401.8 167.4 1402.3 170.2 1403.7C173 1405.1 176 1407.2 178.9 1410.2C181.8 1413.2 184.9 1417.3 187.5 1421.9C190.1 1426.5 192.3 1431.8 194.7 1437.8C197 1443.8 199.5 1451.1 201.6 1457.6C203.7 1464.1 205.5 1470.1 207.5 1476.8C209.5 1483.5 211.6 1491 213.5 1497.6C215.4 1504.1 217.2 1510.3 219 1516.1C220.8 1521.9 222.5 1526.8 224.3 1532.3C226.1 1537.8 228.1 1543.7 230 1548.8C231.9 1553.9 233.7 1558.4 235.6 1563.1C237.5 1567.8 239.2 1571.7 241.5 1576.7C243.8 1581.8 246.8 1588.4 249.2 1593.4C251.6 1598.5 253.2 1601.7 255.8 1607C258.4 1612.3 262.1 1619.8 264.8 1625C267.5 1630.2 269.6 1633.9 272 1638C274.4 1642.1 276.8 1646 279.5 1649.8C282.2 1653.5 285 1657.2 288 1660.5C291 1663.8 292.9 1665.7 297.5 1669.6C302.1 1673.5 308.9 1679.6 315.5 1684C322.1 1688.4 329.2 1692.5 337 1695.8C344.8 1699.1 353.2 1701.7 362.2 1703.7C371.2 1705.7 381.3 1706.9 390.9 1708C400.5 1709.1 406.5 1709.7 419.7 1710.2C432.9 1710.7 449.9 1710.8 470 1710.9C490.1 1711 515 1711 540 1711C565 1711 595.8 1711 620 1711C644.2 1711 674.2 1711 685 1711" fill="none" stroke="#151515" stroke-width="2.5" stroke-linecap="round" stroke-linejoin="round" />
<polygon points="105.6,1415.7 118.1,1412.1 118.1,1419.3" fill="#151515"/>
<line x1="143.9" y1="1415.7" x2="117.3" y2="1415.7" stroke="#151515" stroke-width="1.5"/>
<polygon points="291.1,1344 278.6,1347.6 278.6,1340.4" fill="#151515"/>
<line x1="245" y1="1344" x2="279.5" y2="1344" stroke="#151515" stroke-width="1.5"/>
<polygon points="446.5,1489 438.5,1480.8 444.1,1477.8" fill="#151515"/>
<line x1="422.5" y1="1444.4" x2="441.8" y2="1480.2" stroke="#151515" stroke-width="1.5" stroke-dasharray="5.5 4"/>
<polygon points="335.2,1682.2 323.8,1680.7 326.6,1674.5" fill="#151515"/>
<path d="M268.7 1621.1C270.5 1624.1 275.3 1633 279.5 1639C283.7 1645 288.5 1651.6 293.9 1657C299.3 1662.4 306.7 1668 311.9 1671.4C317.1 1674.8 323 1676.5 325.2 1677.6" fill="none" stroke="#151515" stroke-width="1.4" stroke-dasharray="1.8 3.1"/>
<polygon points="254.4,1698.3 265.6,1695.5 265.2,1702.3" fill="#151515"/>
<path d="M337 1703C330.8 1702.7 309.5 1701.5 300 1701C290.5 1700.5 285.8 1700.1 280 1699.8C274.2 1699.5 267.8 1699.1 265.4 1698.9" fill="none" stroke="#151515" stroke-width="1.4" stroke-dasharray="1.8 3.1"/>
</g>
</svg>
</body></html>
